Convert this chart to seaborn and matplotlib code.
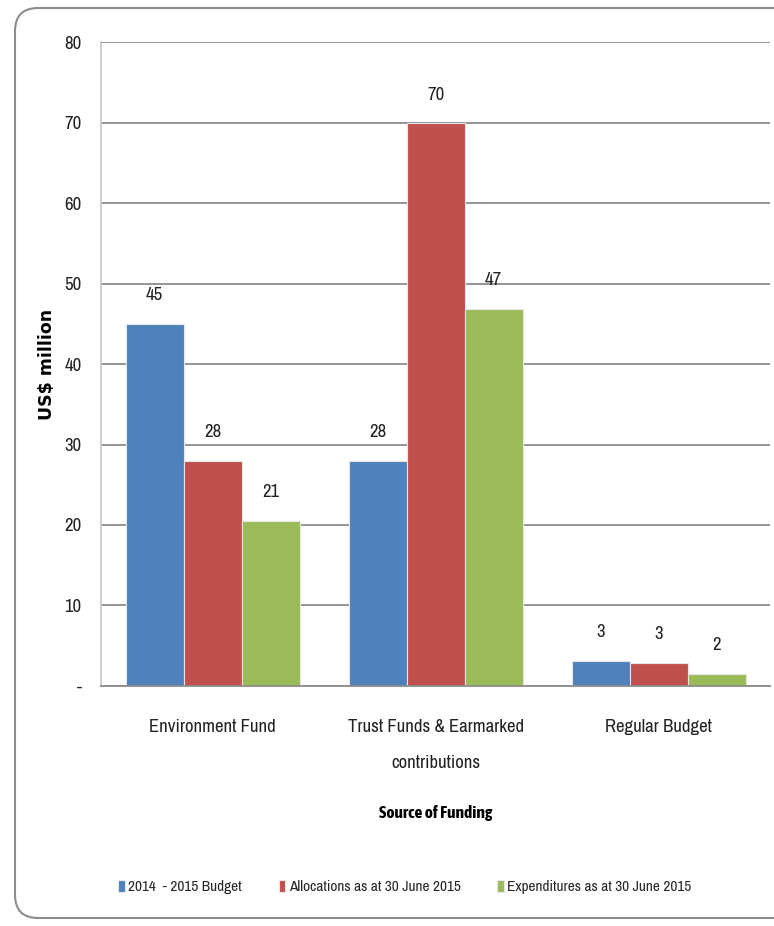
import pandas as pd
import matplotlib
matplotlib.use('Agg')
import matplotlib.pyplot as plt
from matplotlib.patches import FancyBboxPatch
import seaborn as sns

# Data
sources = ['Environment Fund', 'Trust Funds & Earmarked\ncontributions', 'Regular Budget']
series = ['2014  - 2015 Budget', 'Allocations as at 30 June 2015', 'Expenditures as at 30 June 2015']
budget = [45, 28, 3.1]
allocations = [28, 69.9, 2.85]
expenditures = [20.5, 46.8, 1.5]
bar_labels = [['45', '28', '3'], ['28', '70', '3'], ['21', '47', '2']]
colors = ['#4F81BD', '#C0504D', '#9BBB59']
yticks = [0, 10, 20, 30, 40, 50, 60, 70, 80]
ytick_labels = ['-', '10', '20', '30', '40', '50', '60', '70', '80']

sns.set_theme(style='white')
plt.rcParams['font.family'] = ['Archivo Narrow', 'DejaVu Sans']
plt.rcParams['font.stretch'] = 'condensed'

df = pd.DataFrame({
    'source': sources * 3,
    'series': [s for s in series for _ in sources],
    'value': budget + allocations + expenditures,
})

fig = plt.figure(figsize=(7.74, 9.26), dpi=100)
ax = fig.add_axes([0.1305, 0.2592, 0.8645, 0.6954])

sns.barplot(data=df, x='source', y='value', hue='series', palette=colors, saturation=1,
            width=0.78, edgecolor='#e6e6e6', linewidth=0.8, ax=ax, legend=True)

for cont, labs in zip(ax.containers, bar_labels):
    ax.bar_label(cont, labels=labs, padding=15, fontsize=13.5, color='#222222')

ax.set_ylim(0, 80)
ax.set_xlim(-0.5, 2.5)
ax.set_yticks(yticks)
ax.set_yticklabels(ytick_labels, fontsize=13.5)
ax.yaxis.grid(True, color='#8c8c8c', linewidth=1.3)
ax.set_axisbelow(True)
ax.tick_params(axis='both', length=0, labelcolor='#222222')
ax.tick_params(axis='y', pad=14)
ax.tick_params(axis='x', pad=24, labelsize=13.5)
for lab in ax.get_xticklabels():
    lab.set_linespacing(2.5)
for side in ['top', 'right']:
    ax.spines[side].set_visible(False)
ax.spines['left'].set_color('#c8c8c8')
ax.spines['bottom'].set_color('#8c8c8c')
ax.spines['bottom'].set_linewidth(1.3)

ax.set_ylabel('US$ million', fontsize=12.5, fontweight='bold', family='DejaVu Sans',
              fontstretch='normal', color='black')
ax.yaxis.set_label_coords(-0.068, 0.5)
ax.set_xlabel('Source of Funding', fontsize=12.5, fontweight='bold', family='Asap Condensed',
              color='black')
ax.xaxis.set_label_coords(0.5, -0.185)

handles, labels = ax.get_legend_handles_labels()
ax.legend_.remove()
fig.legend(handles, labels, loc='center', bbox_to_anchor=(0.523, 0.042), ncol=3,
           frameon=False, fontsize=11, handlelength=0.45, handleheight=0.9,
           handletextpad=0.2, columnspacing=2.4)

border = FancyBboxPatch((15 / 774, 8 / 926), 800 / 774, 910 / 926,
                        boxstyle='round,pad=0,rounding_size=0.03',
                        transform=fig.transFigure, fill=False,
                        edgecolor='#8c8c8c', linewidth=1.5, mutation_aspect=774 / 926)
fig.patches.append(border)

fig.savefig('out.png', dpi=100)
